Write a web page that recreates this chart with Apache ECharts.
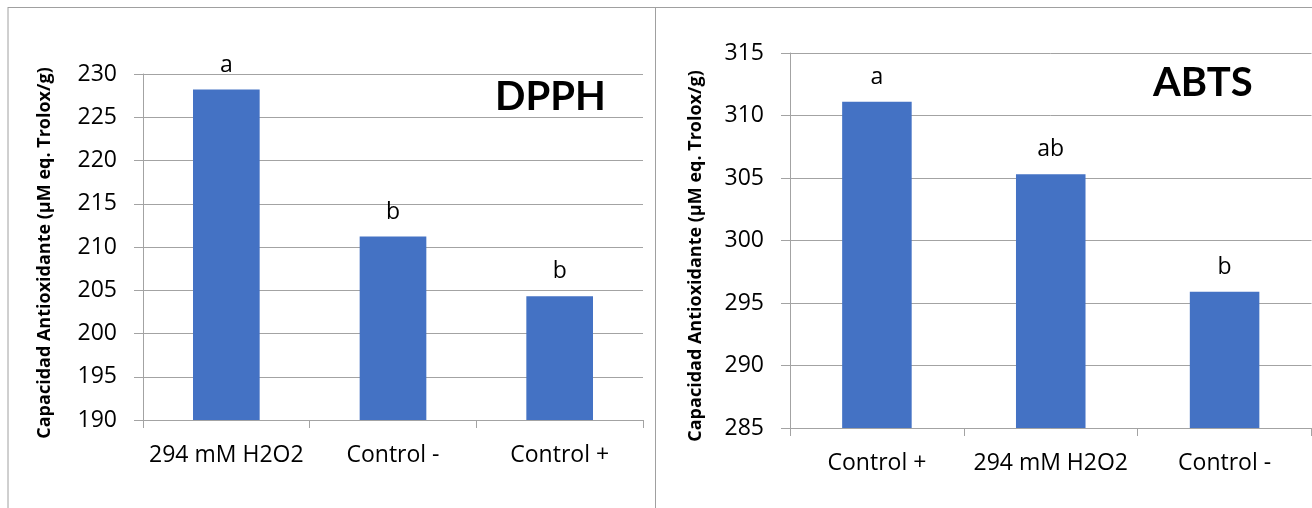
<!DOCTYPE html>
<html>
<head>
<meta charset="utf-8">
<script src="https://cdn.jsdelivr.net/npm/echarts@6/dist/echarts.min.js"></script>
<style>
  html, body { margin: 0; padding: 0; background: #fff; }
  #chart { width: 1312px; height: 508px; }
</style>
</head>
<body>
<div id="chart"></div>
<script>
// DPPH assay
const dpphCategories = ['294 mM H2O2', 'Control -', 'Control +'];
const dpphValues = [228.2, 211.2, 204.3];
const dpphLetters = ['a', 'b', 'b'];
const dpphAxis = { min: 190, max: 230, interval: 5 };

// ABTS assay
const abtsCategories = ['Control +', '294 mM H2O2', 'Control -'];
const abtsValues = [311.1, 305.3, 295.9];
const abtsLetters = ['a', 'ab', 'b'];
const abtsAxis = { min: 285, max: 315, interval: 5 };

const yTitle = 'Capacidad Antioxidante (µM eq. Trolox/g)';

const FONT = 'Open Sans';
const TITLE_FONT = 'Lato';
const GRID_GRAY = '#a3a3a3';
const BAR_BLUE = '#4472C4';
const TEXT_SIZE = 23;

function xAxisFor(idx, cats) {
  return {
    type: 'category', gridIndex: idx, data: cats,
    axisLine: { show: true, lineStyle: { color: GRID_GRAY, width: 1 } },
    axisTick: { show: true, length: 8, lineStyle: { color: GRID_GRAY } },
    axisLabel: { interval: 0, margin: 24, fontSize: TEXT_SIZE, color: '#000', fontFamily: FONT }
  };
}
function yAxisFor(idx, ax) {
  return {
    type: 'value', gridIndex: idx, min: ax.min, max: ax.max, interval: ax.interval,
    axisLine: { show: true, lineStyle: { color: GRID_GRAY, width: 1 } },
    axisTick: { show: true, length: 9, lineStyle: { color: GRID_GRAY } },
    splitLine: { show: true, lineStyle: { color: GRID_GRAY, width: 1 } },
    axisLabel: { margin: 26, fontSize: TEXT_SIZE, color: '#000', fontFamily: FONT }
  };
}
function barSeries(idx, values, letters) {
  return {
    type: 'bar', xAxisIndex: idx, yAxisIndex: idx, data: values,
    barWidth: '40%',
    itemStyle: { color: BAR_BLUE },
    label: {
      show: true, position: 'top', distance: 13,
      formatter: p => letters[p.dataIndex],
      fontSize: TEXT_SIZE, color: '#000', fontFamily: FONT
    },
    silent: true, animation: false
  };
}

const chart = echarts.init(document.getElementById('chart'), null, { renderer: 'canvas' });
chart.setOption({
  animation: false,
  backgroundColor: '#fff',
  grid: [
    { left: 143, top: 74, width: 500, height: 346 },
    { left: 790, top: 53, width: 521.5, height: 375 }
  ],
  xAxis: [xAxisFor(0, dpphCategories), xAxisFor(1, abtsCategories)],
  yAxis: [yAxisFor(0, dpphAxis), yAxisFor(1, abtsAxis)],
  series: [barSeries(0, dpphValues, dpphLetters), barSeries(1, abtsValues, abtsLetters)],
  graphic: [
    // panel frames
    { type: 'line', shape: { x1: 8, y1: 7.5, x2: 1312, y2: 7.5 }, style: { stroke: '#a0a0a0', lineWidth: 1 }, silent: true },
    { type: 'line', shape: { x1: 8, y1: 7, x2: 8, y2: 508 }, style: { stroke: '#a0a0a0', lineWidth: 1 }, silent: true },
    { type: 'line', shape: { x1: 655.5, y1: 7, x2: 655.5, y2: 508 }, style: { stroke: '#a0a0a0', lineWidth: 1 }, silent: true },
    // assay titles
    { type: 'text', left: 495, top: 77, style: { text: 'DPPH', fontSize: 40, fontWeight: 'bold', fontFamily: TITLE_FONT, fill: '#000' }, silent: true },
    { type: 'text', left: 1153, top: 63, style: { text: 'ABTS', fontSize: 40, fontWeight: 'bold', fontFamily: TITLE_FONT, fill: '#000' }, silent: true },
    // y-axis titles
    { type: 'text', x: 45, y: 253, rotation: Math.PI / 2,
      style: { text: yTitle, fontSize: 18, fontWeight: 'bold', fontFamily: FONT, fill: '#000', align: 'center', verticalAlign: 'middle' }, silent: true },
    { type: 'text', x: 696, y: 256, rotation: Math.PI / 2,
      style: { text: yTitle, fontSize: 18, fontWeight: 'bold', fontFamily: FONT, fill: '#000', align: 'center', verticalAlign: 'middle' }, silent: true }
  ]
});
</script>
</body>
</html>
